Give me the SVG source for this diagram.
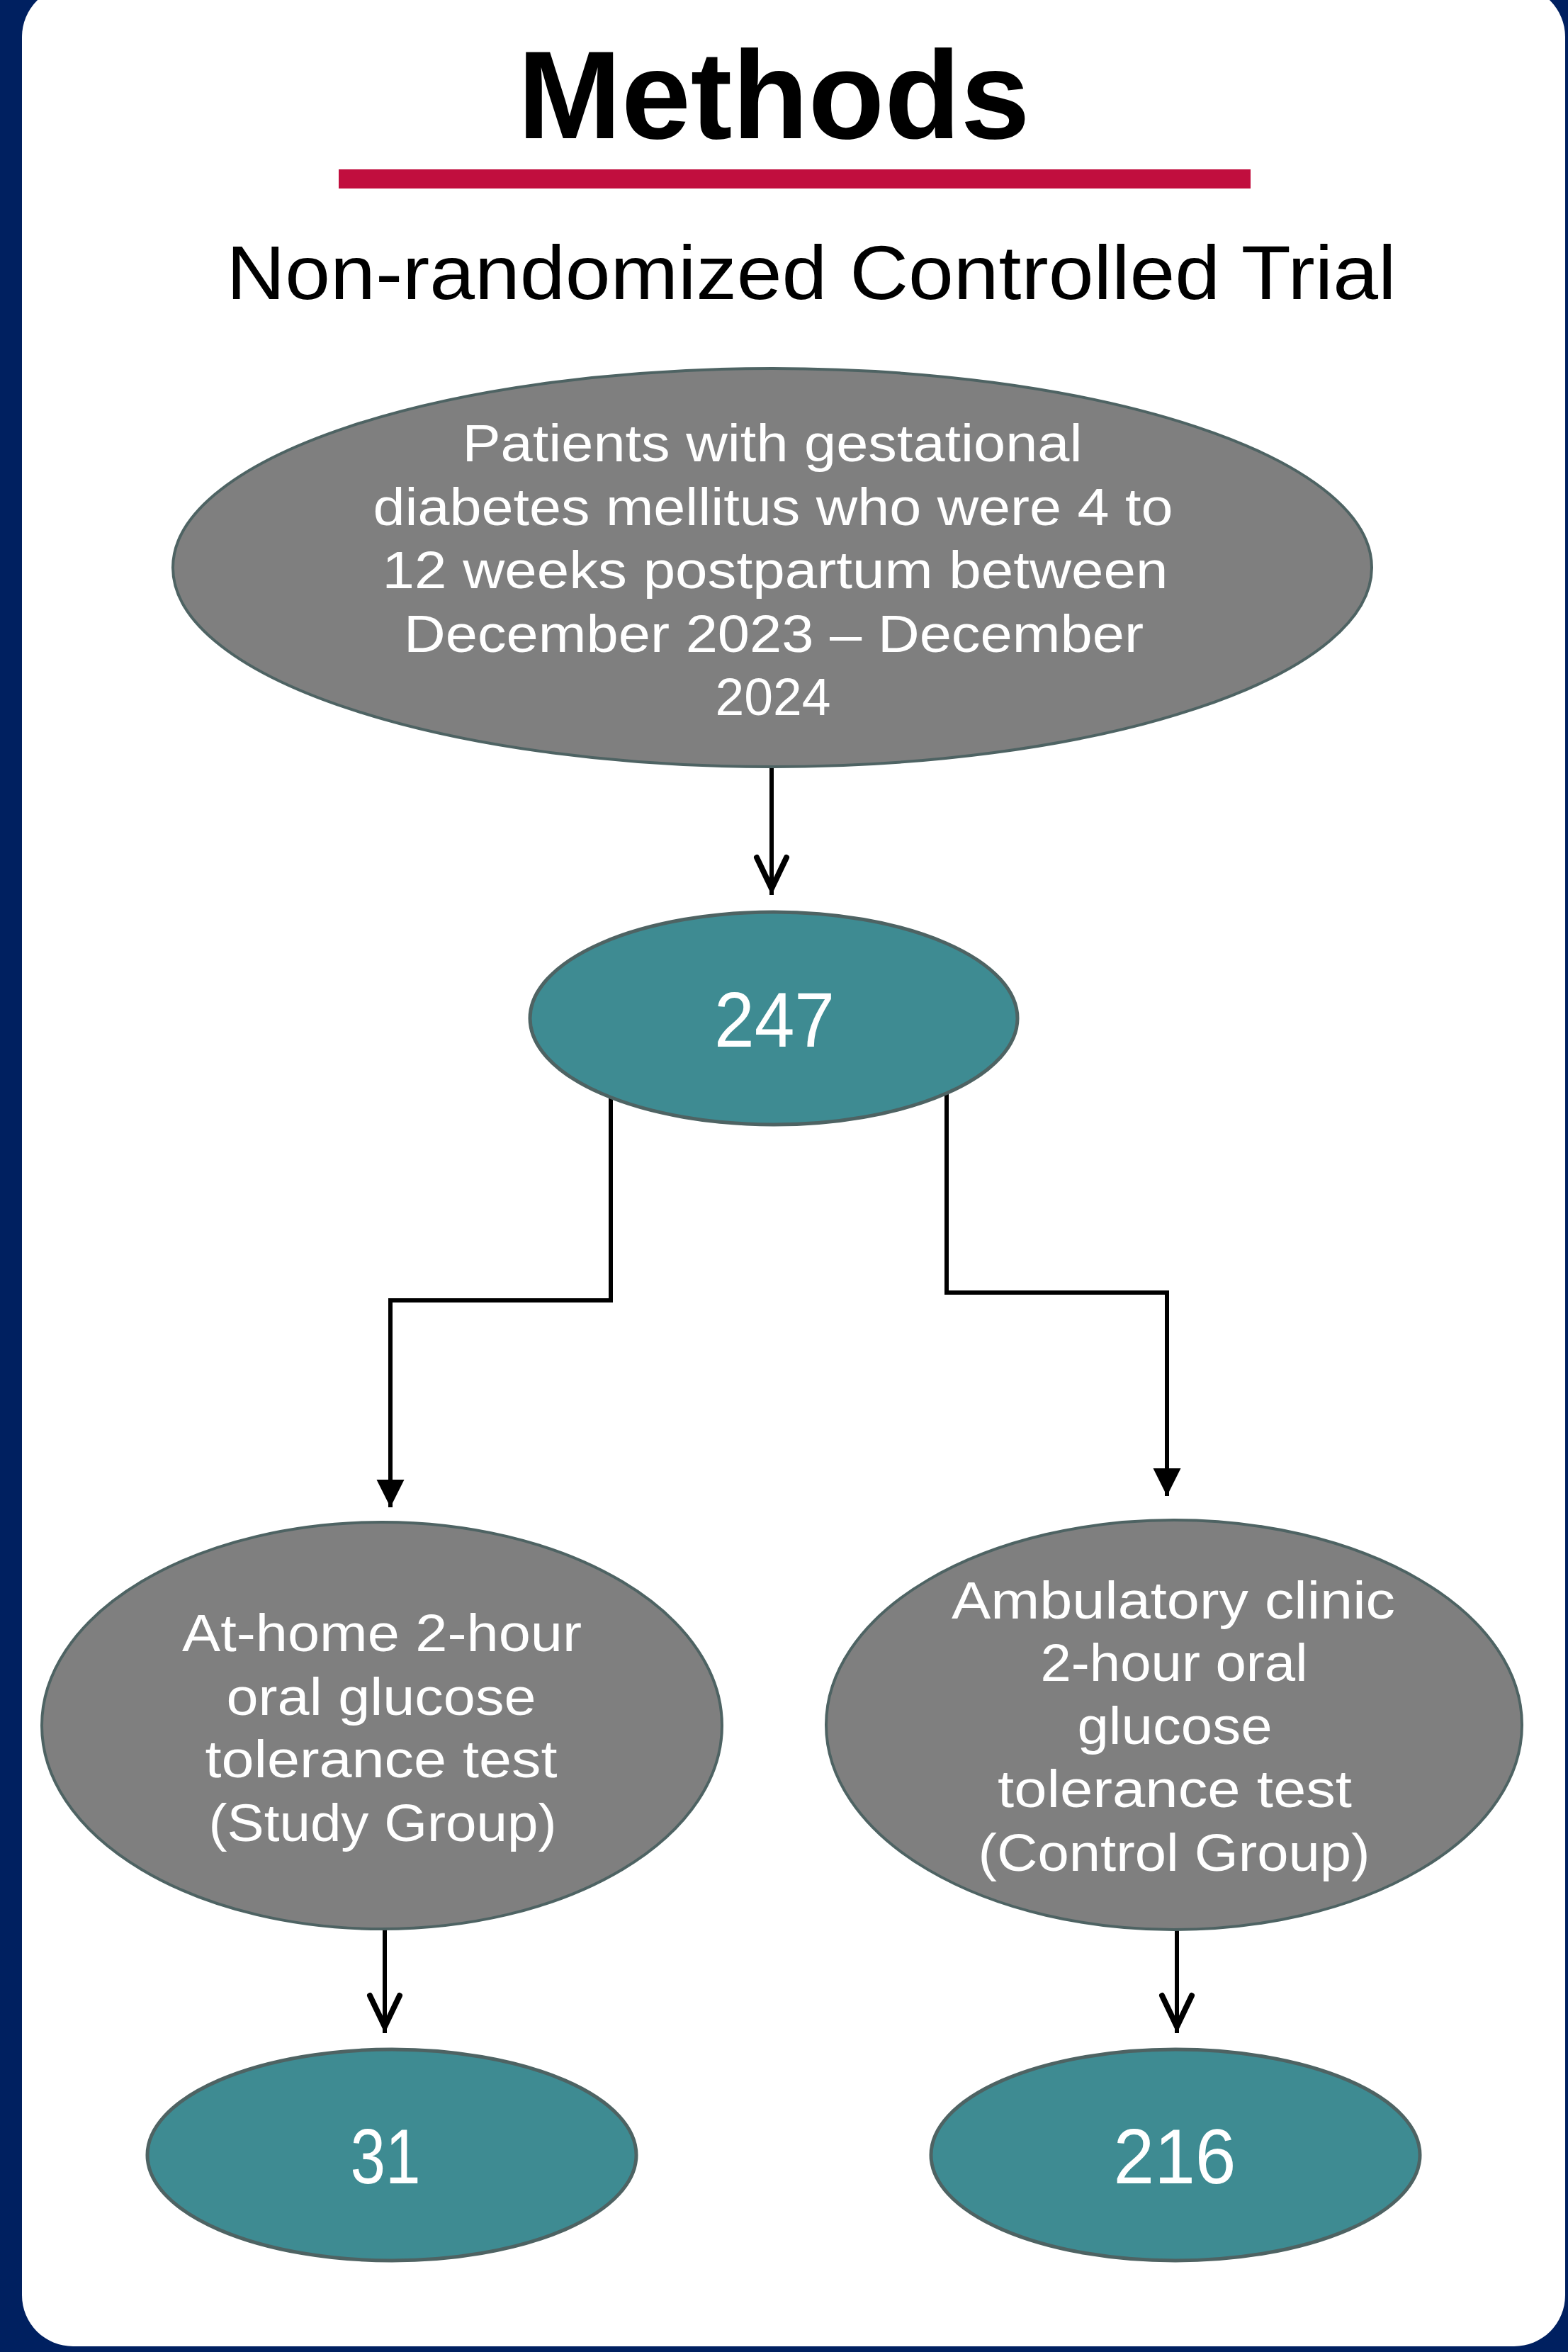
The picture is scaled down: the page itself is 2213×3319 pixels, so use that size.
<svg xmlns="http://www.w3.org/2000/svg" width="2213" height="3319" viewBox="0 0 2213 3319">
<style>
.gray{fill:#7F7F7F;stroke:#4E6363;stroke-width:4}
.teal{fill:#3E8B92;stroke:#4E6363;stroke-width:5}
.lbl{font-family:"Liberation Sans",Arial,sans-serif;fill:#FFFFFF;text-anchor:middle;font-size:74px}
.num{font-family:"Liberation Sans",Arial,sans-serif;fill:#FFFFFF;text-anchor:middle;font-size:110px}
.conn{fill:none;stroke:#000;stroke-width:6;stroke-linejoin:miter}
</style>
<defs>
<marker id="open" markerUnits="userSpaceOnUse" markerWidth="80" markerHeight="70" viewBox="-65 -35 80 70" refX="0" refY="0" orient="auto">
<path d="M-53,-21 L-9,0 L-53,21" fill="none" stroke="#000" stroke-width="8" stroke-linecap="round" stroke-linejoin="miter" stroke-miterlimit="10"/>
</marker>
<marker id="tri" markerUnits="userSpaceOnUse" markerWidth="60" markerHeight="50" viewBox="-50 -25 60 50" refX="0" refY="0" orient="auto">
<polygon points="0,0 -39,-19.5 -39,19.5" fill="#000"/>
</marker>
</defs>
<rect x="0" y="0" width="2213" height="3319" fill="#002060"/>
<rect x="31" y="-20" width="2178" height="3331" rx="72" ry="72" fill="#FFFFFF"/>
<g id="title">
<text x="1092" y="195" font-family="'Liberation Sans',Arial,sans-serif" font-weight="bold" font-size="177" text-anchor="middle" fill="#000" textLength="723" lengthAdjust="spacingAndGlyphs">Methods</text>
<rect x="478" y="239" width="1287" height="27" fill="#C10E3E"/>
<text x="1145" y="422" font-family="'Liberation Sans',Arial,sans-serif" font-size="107" text-anchor="middle" fill="#000" textLength="1651" lengthAdjust="spacingAndGlyphs">Non-randomized Controlled Trial</text>
</g>
<g id="connectors">
<line class="conn" x1="1089" y1="1082" x2="1089" y2="1263" marker-end="url(#open)"/>
<polyline class="conn" points="862,1548 862,1835 551,1835 551,2127" marker-end="url(#tri)"/>
<polyline class="conn" points="1336,1543 1336,1824 1647,1824 1647,2111" marker-end="url(#tri)"/>
<line class="conn" x1="543" y1="2722" x2="543" y2="2869" marker-end="url(#open)"/>
<line class="conn" x1="1661" y1="2723" x2="1661" y2="2869" marker-end="url(#open)"/>
</g>
<g id="node-patients">
<ellipse class="gray" cx="1090" cy="801" rx="846" ry="281"/>
<text class="lbl" x="1090" y="651" textLength="875" lengthAdjust="spacingAndGlyphs">Patients with gestational</text>
<text class="lbl" x="1091" y="741" textLength="1129" lengthAdjust="spacingAndGlyphs">diabetes mellitus who were 4 to</text>
<text class="lbl" x="1094" y="830" textLength="1109" lengthAdjust="spacingAndGlyphs">12 weeks postpartum between</text>
<text class="lbl" x="1092" y="920" textLength="1044" lengthAdjust="spacingAndGlyphs">December 2023 – December</text>
<text class="lbl" x="1091" y="1009" textLength="163" lengthAdjust="spacingAndGlyphs">2024</text>
</g>
<g id="node-247">
<ellipse class="teal" cx="1092" cy="1437" rx="344" ry="150"/>
<text class="num" x="1093" y="1477" textLength="170" lengthAdjust="spacingAndGlyphs">247</text>
</g>
<g id="node-study">
<ellipse class="gray" cx="539" cy="2435" rx="480" ry="287"/>
<text class="lbl" x="539" y="2330" textLength="564" lengthAdjust="spacingAndGlyphs">At-home 2-hour</text>
<text class="lbl" x="538" y="2420" textLength="437" lengthAdjust="spacingAndGlyphs">oral glucose</text>
<text class="lbl" x="538" y="2508" textLength="497" lengthAdjust="spacingAndGlyphs">tolerance test</text>
<text class="lbl" x="540" y="2598" textLength="491" lengthAdjust="spacingAndGlyphs">(Study Group)</text>
</g>
<g id="node-control">
<ellipse class="gray" cx="1657" cy="2434" rx="491" ry="289"/>
<text class="lbl" x="1656" y="2284" textLength="626" lengthAdjust="spacingAndGlyphs">Ambulatory clinic</text>
<text class="lbl" x="1657" y="2372" textLength="377" lengthAdjust="spacingAndGlyphs">2-hour oral</text>
<text class="lbl" x="1658" y="2461" textLength="275" lengthAdjust="spacingAndGlyphs">glucose</text>
<text class="lbl" x="1658" y="2550" textLength="500" lengthAdjust="spacingAndGlyphs">tolerance test</text>
<text class="lbl" x="1657" y="2640" textLength="553" lengthAdjust="spacingAndGlyphs">(Control Group)</text>
</g>
<g id="node-31">
<ellipse class="teal" cx="553" cy="3041" rx="345" ry="149"/>
<text class="num" x="544" y="3081" textLength="99" lengthAdjust="spacingAndGlyphs">31</text>
</g>
<g id="node-216">
<ellipse class="teal" cx="1659" cy="3041" rx="345" ry="149"/>
<text class="num" x="1658" y="3081" textLength="173" lengthAdjust="spacingAndGlyphs">216</text>
</g>
</svg>
